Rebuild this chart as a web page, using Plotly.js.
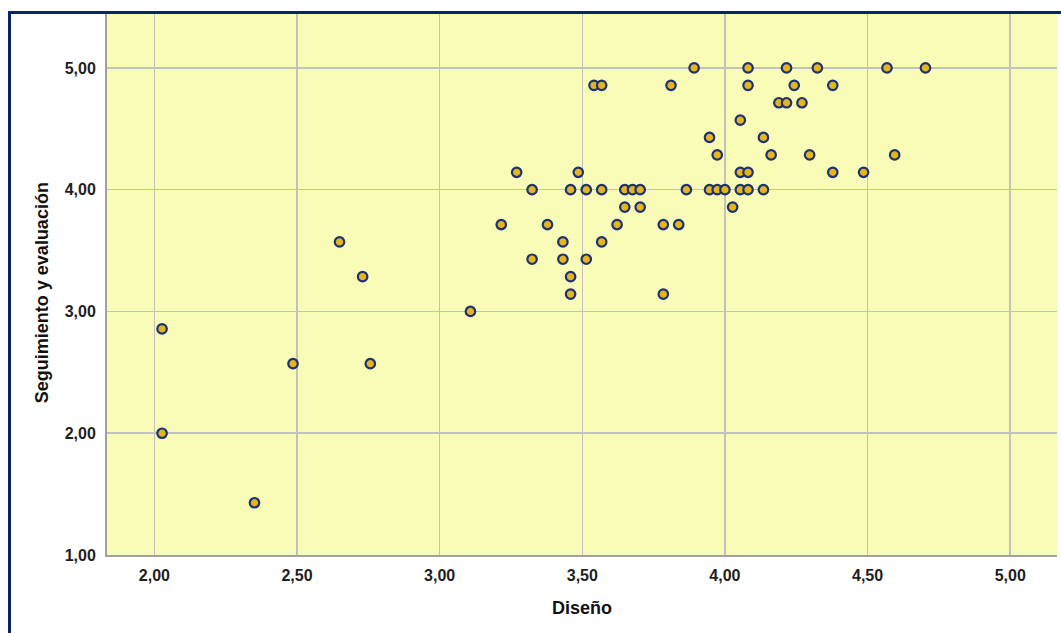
<!DOCTYPE html>
<html>
<head>
<meta charset="utf-8">
<script src="https://cdn.plot.ly/plotly-3.0.1.min.js"></script>
<style>
  html, body { margin: 0; padding: 0; background: #ffffff; }
  #wrap { position: relative; width: 1061px; height: 633px; overflow: hidden; }
  #chart { position: absolute; left: 0; top: 0; width: 1061px; height: 633px; }
  #frame { position: absolute; left: 8px; top: 11px; width: 1100px; height: 700px;
           border-top: 3px solid #0b2463; border-left: 3px solid #0b2463; pointer-events: none; }
</style>
</head>
<body>
<div id="wrap">
  <div id="chart"></div>
  <div id="frame"></div>
</div>
<script>
// Diseño (x) vs Seguimiento y evaluación (y)
const diseno = [
  2.027, 2.027, 2.351, 2.486, 2.649, 2.730, 2.757, 3.108,
  3.216, 3.270, 3.324, 3.324, 3.378, 3.432, 3.432, 3.459, 3.459, 3.459,
  3.486, 3.514, 3.514, 3.541, 3.568, 3.568, 3.568, 3.622, 3.649, 3.649,
  3.676, 3.703, 3.703, 3.784, 3.784, 3.811, 3.838, 3.865, 3.892,
  3.946, 3.946, 3.973, 3.973, 4.000, 4.027, 4.054, 4.054, 4.054,
  4.081, 4.081, 4.081, 4.081, 4.135, 4.135, 4.162, 4.189, 4.216, 4.216,
  4.243, 4.270, 4.297, 4.324, 4.378, 4.378, 4.486, 4.568, 4.595, 4.703
];
const seguimiento = [
  2.857, 2.000, 1.429, 2.571, 3.571, 3.286, 2.571, 3.000,
  3.714, 4.143, 4.000, 3.429, 3.714, 3.571, 3.429, 4.000, 3.286, 3.143,
  4.143, 4.000, 3.429, 4.857, 4.857, 4.000, 3.571, 3.714, 4.000, 3.857,
  4.000, 4.000, 3.857, 3.714, 3.143, 4.857, 3.714, 4.000, 5.000,
  4.429, 4.000, 4.286, 4.000, 4.000, 3.857, 4.571, 4.143, 4.000,
  5.000, 4.857, 4.143, 4.000, 4.429, 4.000, 4.286, 4.714, 5.000, 4.714,
  4.857, 4.714, 4.286, 5.000, 4.857, 4.143, 4.143, 5.000, 4.286, 5.000
];
const xTicks = [2.0, 2.5, 3.0, 3.5, 4.0, 4.5, 5.0];
const yTicks = [1, 2, 3, 4, 5];
const xTitle = 'Diseño';
const yTitle = 'Seguimiento y evaluación';

const tickFont = { family: 'Liberation Sans, Arial, sans-serif', size: 16, weight: 'bold', color: '#1e1e1e' };
const titleFont = { family: 'Liberation Sans, Arial, sans-serif', size: 18, weight: 'bold', color: '#111111' };

const trace = {
  type: 'scatter', mode: 'markers',
  x: diseno, y: seguimiento,
  marker: { size: 9.5, color: '#e4b51c', line: { color: '#1c3274', width: 2.2 } },
  hoverinfo: 'x+y'
};

const layout = {
  width: 1061, height: 633,
  margin: { l: 107, r: 4, t: 14, b: 78, pad: 0 },
  paper_bgcolor: '#ffffff',
  plot_bgcolor: '#f9fcb6',
  separators: ',.',
  showlegend: false,
  xaxis: {
    range: [1.834, 5.164], tickvals: xTicks, tickformat: '.2f',
    showgrid: true, gridcolor: '#c2c2bc', gridwidth: 1.5,
    zeroline: false, showline: true, linecolor: '#a0a0a0', linewidth: 2,
    ticks: '', ticklabelstandoff: 5,
    tickfont: tickFont,
    title: { text: xTitle, font: titleFont, standoff: 18 }
  },
  yaxis: {
    range: [1, 5.443], tickvals: yTicks, tickformat: '.2f',
    showgrid: true, gridcolor: '#c2c2bc', gridwidth: 1.5,
    zeroline: false, showline: true, linecolor: '#a0a0a0', linewidth: 2,
    ticks: '', ticklabelstandoff: 6,
    tickfont: tickFont
  },
  annotations: [{
    text: yTitle, font: titleFont, textangle: -90, showarrow: false,
    xref: 'paper', yref: 'paper', x: -0.0684, y: 0.484,
    xanchor: 'center', yanchor: 'middle'
  }]
};

Plotly.newPlot('chart', [trace], layout, { displayModeBar: false, staticPlot: true });
</script>
</body>
</html>
